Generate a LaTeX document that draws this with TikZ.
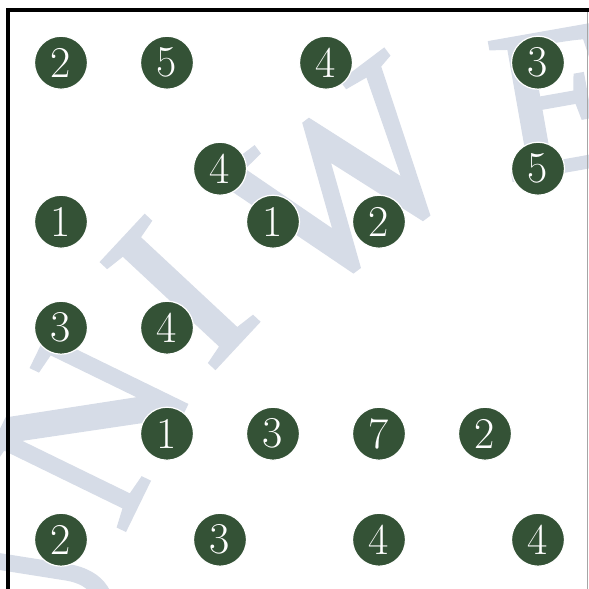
\documentclass[tikz,border=0pt]{standalone}
\usepackage{fontspec}
\newfontfamily\wmfont[UprightFeatures={FakeBold=2}]{Liberation Serif}
\definecolor{isl}{RGB}{52,82,54}
\definecolor{wm}{RGB}{214,220,231}
\begin{document}
\begin{tikzpicture}[x=1pt,y=-1pt,
  island/.style={circle,fill=isl,draw=white,line width=1.2pt,minimum size=53pt,inner sep=0pt,text=white,font=\fontsize{44}{44}\selectfont},
  wmletter/.style={text=wm,inner sep=0pt,anchor=center,font=\wmfont\fontsize{235}{235}\selectfont},
  frame/.style={line width=3.5pt,black},
  edge/.style={line width=1pt,gray!70}]
\useasboundingbox (0,0) rectangle (589,589);
\begin{scope}
  \clip (0,0) rectangle (589,589);
  \node[wmletter,rotate=81] (wmU) at (35,622) {U};
  \node[wmletter,rotate=64] (wmN) at (90,425) {N};
  \node[wmletter,rotate=47] (wmI) at (180,292) {I};
  \node[wmletter,rotate=37] (wmW) at (343,180) {W};
  \node[wmletter,rotate=10,font=\wmfont\fontsize{212}{212}\selectfont] (wmE) at (560,101) {E};
\end{scope}
\coordinate (fb) at (8,590);
\coordinate (ftl) at (8,10);
\coordinate (ftr) at (590,10);
\coordinate (rt) at (587.5,10);
\coordinate (rb) at (587.5,590);
\draw[edge] (rt) -- (rb);
\draw[frame] (fb) -- (ftl) -- (ftr);
\foreach \c/\r/\v in {0/0/2,2/0/5,5/0/4,9/0/3,3/2/4,9/2/5,0/3/1,4/3/1,6/3/2,0/5/3,2/5/4,2/7/1,4/7/3,6/7/7,8/7/2,0/9/2,3/9/3,6/9/4,9/9/4}
  \node[island] (n\c-\r) at ({61+53*\c},{62.7+53*\r}) {\v};
\end{tikzpicture}
\end{document}
